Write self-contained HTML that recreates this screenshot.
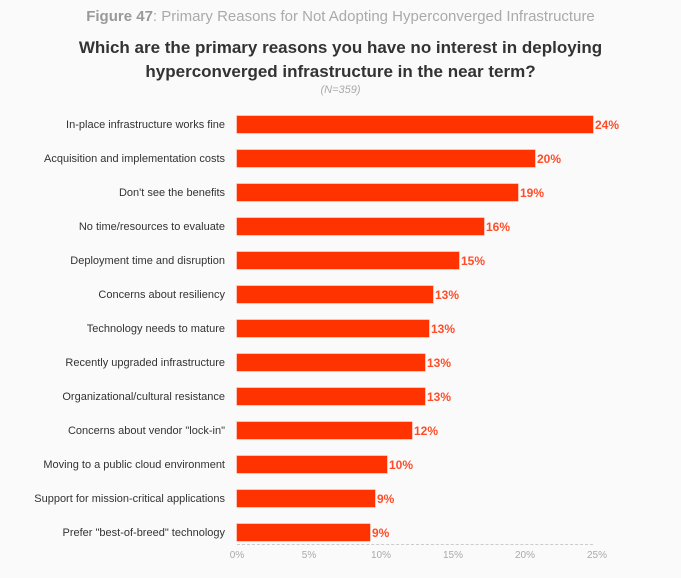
<!DOCTYPE html>
<html><head><style>
body{margin:0;background:#fafafa;width:681px;height:578px;overflow:hidden;font-family:"Liberation Sans",sans-serif;position:relative}
.t{position:absolute;left:0;width:681px;text-align:center}
.l{position:absolute;right:456px;font-size:11px;color:#333;white-space:nowrap;line-height:14px}
.b{position:absolute;left:237px;height:17px;background:#ff3300;box-shadow:0 0 0 0.5px #ff8a70}
.v{position:absolute;font-size:12px;font-weight:bold;color:#ff4d29;line-height:14px}
.x{position:absolute;top:550px;font-size:10px;color:#aaa;width:30px;text-align:center;margin-left:-15px}
</style></head><body>
<div class="t" style="top:8px;font-size:15px;color:#aaa"><b style="color:#999">Figure 47</b>: Primary Reasons for Not Adopting Hyperconverged Infrastructure</div>
<div class="t" style="top:36px;font-size:17px;font-weight:bold;color:#333;line-height:24px">Which are the primary reasons you have no interest in deploying<br>hyperconverged infrastructure in the near term?</div>
<div class="t" style="top:84px;font-size:11px;font-style:italic;color:#aaa">(N=359)</div>
<div id="c"></div>
<div style="position:absolute;left:237px;top:544px;width:356px;border-top:1px dashed #ccc"></div>
<div class="x" style="left:237px">0%</div><div class="x" style="left:309px">5%</div><div class="x" style="left:381px">10%</div><div class="x" style="left:453px">15%</div><div class="x" style="left:525px">20%</div><div class="x" style="left:597px">25%</div>
<script>
var d=[["In-place infrastructure works fine",593,"24%"],["Acquisition and implementation costs",535,"20%"],["Don't see the benefits",518,"19%"],["No time/resources to evaluate",484,"16%"],["Deployment time and disruption",459,"15%"],["Concerns about resiliency",433,"13%"],["Technology needs to mature",429,"13%"],["Recently upgraded infrastructure",425,"13%"],["Organizational/cultural resistance",425,"13%"],["Concerns about vendor \"lock-in\"",412,"12%"],["Moving to a public cloud environment",387,"10%"],["Support for mission-critical applications",375,"9%"],["Prefer \"best-of-breed\" technology",370,"9%"]];
var h="";d.forEach(function(r,i){var c=124.5+i*34;
h+='<div class="l" style="top:'+(c-7)+'px">'+r[0]+'</div><div class="b" style="top:'+(c-8.5)+'px;width:'+(r[1]-237)+'px"></div><div class="v" style="top:'+(c-7)+'px;left:'+(r[1]+2)+'px">'+r[2]+'</div>';});
document.getElementById("c").innerHTML=h;
</script>
</body></html>
